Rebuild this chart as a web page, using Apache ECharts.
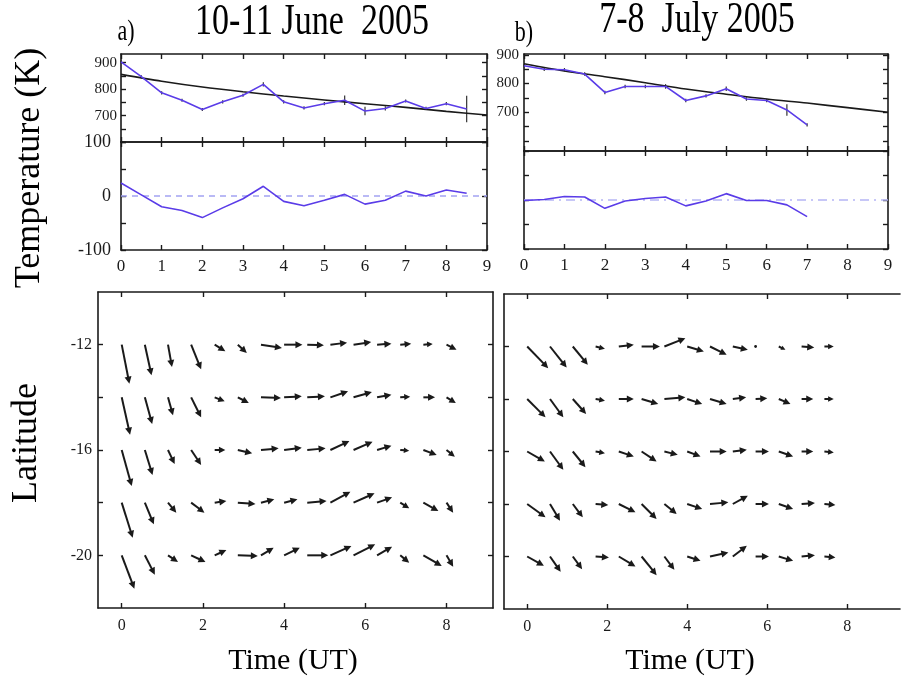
<!DOCTYPE html>
<html>
<head>
<meta charset="utf-8">
<script src="https://cdn.jsdelivr.net/npm/echarts@6/dist/echarts.min.js"></script>
<style>
  html, body { margin: 0; padding: 0; background: #fff; }
  #chart { width: 902px; height: 678px; }
</style>
</head>
<body>
<div id="chart"></div>
<script>
  // ---- temperature, 10-11 June 2005 ----
  var tempTimeJun = [0, 0.5, 1, 1.5, 2, 2.5, 3, 3.5, 4, 4.5, 5, 5.5, 6, 6.5, 7, 7.5, 8, 8.5]
  var tempJun = [903, 847, 786, 758, 723, 752, 777, 818, 752, 729, 745, 758, 717, 727, 755, 727, 745, 725]
  var errJun = [6, 6, 6, 6, 6, 6, 6, 8, 6, 6, 6, 18, 16, 8, 6, 6, 6, 50]
  var residJun = [24, 2, -20, -27, -40, -22, -5, 18, -10, -18, -8, 3, -15, -8, 9, 0, 11, 5]
  var fitTime = [0, 1, 2, 3, 4, 5, 6, 7, 8, 9]
  var fitJun = [856, 830, 808, 790, 774, 759, 745, 731, 716, 702]

  // ---- temperature, 7-8 July 2005 ----
  var tempTimeJul = [0, 0.5, 1, 1.5, 2, 2.5, 3, 3.5, 4, 4.5, 5, 5.5, 6, 6.5, 7]
  var tempJul = [862, 850, 848, 833, 769, 790, 790, 790, 741, 757, 782, 746, 741, 708, 656]
  var errJul = [6, 6, 6, 6, 6, 6, 6, 8, 6, 6, 8, 6, 6, 20, 6]
  var residJul = [-1, 1, 7, 6, -17, -2, 3, 6, -12, -2, 13, -1, -1, -10, -34]
  var fitJul = [869, 844, 824, 803, 781, 763, 746, 732, 716, 700]

  // ---- winds (m/s, u eastward, v northward) ----
  var latRows = [-12, -14, -16, -18, -20]
  var windTimeJun = [0, 0.57, 1.14, 1.71, 2.29, 2.86, 3.43, 4, 4.57, 5.14, 5.71, 6.29, 6.86, 7.43, 8]
  var windTimeJul = [0, 0.57, 1.14, 1.71, 2.29, 2.86, 3.43, 4, 4.57, 5.14, 5.71, 6.29, 6.86, 7.43]
  var uJun = [
    [23, 20, 12, 30, 32, 27, 63, 55, 50, 50, 53, 43, 33, 28, 30],
    [25, 22, 15, 30, 30, 33, 60, 53, 53, 53, 55, 43, 30, 35, 28],
    [30, 23, 20, 30, 32, 43, 53, 53, 55, 57, 57, 43, 27, 40, 25],
    [33, 27, 25, 40, 35, 53, 40, 40, 58, 60, 63, 45, 27, 45, 20],
    [38, 30, 30, 43, 35, 60, 38, 47, 63, 63, 65, 45, 27, 55, 20]
  ]
  var vJun = [
    [-117, -92, -67, -74, -20, -25, -10, 0, -2, 6, 8, 3, 3, 2, -15],
    [-112, -80, -54, -60, -12, -17, -2, 3, 3, 18, 16, 8, 2, 0, -17],
    [-108, -75, -42, -45, 0, -10, 5, 7, 5, 27, 25, 13, -2, -15, -20],
    [-105, -65, -30, -30, 5, -4, 10, 10, 5, 33, 28, 16, -17, -25, -30],
    [-100, -58, -20, -20, 16, -2, 23, 23, 0, 28, 33, 26, -22, -32, -34]
  ]
  var uJul = [
    [63, 50, 45, 28, 45, 55, 63, 50, 50, 45, 3, 20, 38, 28],
    [55, 40, 40, 28, 45, 50, 63, 45, 50, 40, 35, 35, 35, 28],
    [53, 40, 38, 28, 45, 45, 40, 40, 50, 42, 40, 43, 35, 28],
    [55, 30, 30, 38, 50, 45, 37, 45, 55, 45, 40, 43, 40, 33],
    [50, 32, 28, 40, 50, 45, 30, 40, 55, 42, 40, 43, 40, 33]
  ]
  var vJul = [
    [-65, -63, -55, -7, 5, 0, 25, -15, -25, -10, 0, -10, -3, 0],
    [-55, -55, -45, -5, 0, -15, 5, -15, -15, 5, 2, -15, 0, 0],
    [-30, -55, -47, -5, -15, -30, -10, -15, 0, 5, 0, -15, 0, -3],
    [-40, -50, -40, -3, -25, -45, -30, -15, 5, 25, 0, -15, 3, -3],
    [-28, -46, -38, -3, -30, -56, -40, -13, 12, 32, 0, -13, 4, -3]
  ]

  var FONT = 'Liberation Serif'
  var INK = '#1a1a1a'
  var BLUE = '#5a3ce8'
  var ARROW_SCALE = 1 / 3 // px per m/s

  function pairs (xs, ys) {
    var res = []
    for (var i = 0; i < ys.length; i++) res.push([xs[i], ys[i]])
    return res
  }
  function errData (xs, ys, es) {
    var res = []
    for (var i = 0; i < ys.length; i++) res.push([xs[i], ys[i] - es[i], ys[i] + es[i]])
    return res
  }
  function windData (times, u, v) {
    var res = []
    for (var r = 0; r < latRows.length; r++) {
      for (var c = 0; c < times.length; c++) {
        res.push([times[c], latRows[r], u[r][c], v[r][c]])
      }
    }
    return res
  }

  var grids = [
    {left: 121, top: 54, width: 366, height: 88},
    {left: 121, top: 142, width: 366, height: 108},
    {left: 524, top: 54, width: 364, height: 97},
    {left: 524, top: 151, width: 364, height: 98},
    {left: 98, top: 292, width: 395, height: 316},
    {left: 504, top: 294, width: 396, height: 315}
  ]

  var xAxes = []
  var yAxes = []
  function axis (g, pos, min, max, ticks, labels, opt) {
    opt = opt || {}
    return {
      type: 'value', gridIndex: g, position: pos, min: min, max: max,
      axisLine: {show: opt.line !== false, onZero: false, lineStyle: {color: INK, width: 1.6}},
      axisTick: {show: true, inside: true, length: 5, customValues: ticks, lineStyle: {color: INK, width: 1.4}},
      axisLabel: {
        show: !!labels, customValues: labels || [], color: INK, fontFamily: FONT,
        fontSize: opt.fs || 15, margin: opt.margin || 6
      },
      splitLine: {show: false}
    }
  }
  var hours = [0, 1, 2, 3, 4, 5, 6, 7, 8, 9]
  var windTicks = [0, 2, 4, 6, 8]
  var latTicks = [-20, -18, -16, -14, -12]
  var latLabels = [-20, -16, -12]
  var tempTicks = [600, 650, 700, 750, 800, 850, 900]
  var tempLabels = [700, 800, 900]
  var resTicks = [-100, -50, 0, 50, 100]

  // 0: June temperature
  xAxes.push(axis(0, 'bottom', 0, 9, hours), axis(0, 'top', 0, 9, hours))
  yAxes.push(axis(0, 'left', 600, 933, tempTicks, tempLabels, {fs: 15, margin: 4}), axis(0, 'right', 600, 933, tempTicks))
  // 1: June residual
  xAxes.push(axis(1, 'bottom', 0, 9, hours, hours, {fs: 17, margin: 8}), axis(1, 'top', 0, 9, hours))
  yAxes.push(axis(1, 'left', -100, 100, resTicks, [-100, 0, 100], {fs: 18, margin: 10}), axis(1, 'right', -100, 100, resTicks))
  // 2: July temperature
  xAxes.push(axis(2, 'bottom', 0, 9, hours), axis(2, 'top', 0, 9, hours))
  yAxes.push(axis(2, 'left', 565, 903, tempTicks, tempLabels, {fs: 15, margin: 5}), axis(2, 'right', 565, 903, tempTicks))
  // 3: July residual
  xAxes.push(axis(3, 'bottom', 0, 9, hours, hours, {fs: 17, margin: 8}), axis(3, 'top', 0, 9, hours))
  yAxes.push(axis(3, 'left', -100, 100, resTicks), axis(3, 'right', -100, 100, resTicks))
  // 4: June winds
  xAxes.push(axis(4, 'bottom', -0.584, 9.145, windTicks, windTicks, {fs: 16, margin: 10}), axis(4, 'top', -0.584, 9.145, windTicks))
  yAxes.push(axis(4, 'left', -22, -10, latTicks, latLabels, {fs: 16, margin: 6}), axis(4, 'right', -22, -10, latTicks))
  // 5: July winds (right edge cut off)
  xAxes.push(axis(5, 'bottom', -0.58, 9.32, windTicks, windTicks, {fs: 16, margin: 10}), axis(5, 'top', -0.58, 9.32, windTicks))
  yAxes.push(axis(5, 'left', -22, -10, latTicks), axis(5, 'right', -22, -10, [], null, {line: false}))

  function renderErr (params, api) {
    var lo = api.coord([api.value(0), api.value(1)])
    var hi = api.coord([api.value(0), api.value(2)])
    return {type: 'line', shape: {x1: lo[0], y1: lo[1], x2: hi[0], y2: hi[1]}, style: {stroke: '#333', lineWidth: 1.2}}
  }

  function renderArrow (params, api) {
    var p = api.coord([api.value(0), api.value(1)])
    var dx = api.value(2) * ARROW_SCALE
    var dy = -api.value(3) * ARROW_SCALE
    var len = Math.sqrt(dx * dx + dy * dy)
    if (len < 2) {
      return {type: 'circle', shape: {cx: p[0], cy: p[1], r: 1.4}, style: {fill: INK}}
    }
    var ux = dx / len, uy = dy / len
    var q = [p[0] + dx, p[1] + dy]
    var hl = Math.min(7, len * 0.6), hw = hl * 0.5
    var b = [q[0] - ux * hl, q[1] - uy * hl]
    return {
      type: 'group',
      children: [
        {type: 'line', shape: {x1: p[0], y1: p[1], x2: b[0] + ux, y2: b[1] + uy}, style: {stroke: INK, lineWidth: 2}},
        {type: 'polygon', shape: {points: [q, [b[0] - uy * hw, b[1] + ux * hw], [b[0] + uy * hw, b[1] - ux * hw]]}, style: {fill: INK}}
      ]
    }
  }

  function lineSeries (idx, data, color, width, extra) {
    var s = {
      type: 'line', xAxisIndex: idx * 2, yAxisIndex: idx * 2, data: data,
      showSymbol: false, symbol: 'none', silent: true, animation: false,
      lineStyle: {color: color, width: width}
    }
    for (var k in (extra || {})) s[k] = extra[k]
    return s
  }

  var series = [
    lineSeries(0, pairs(fitTime, fitJun), INK, 1.6, {smooth: 0.3}),
    lineSeries(0, pairs(tempTimeJun, tempJun), BLUE, 1.6),
    {type: 'custom', xAxisIndex: 0, yAxisIndex: 0, data: errData(tempTimeJun, tempJun, errJun), renderItem: renderErr, animation: false, silent: true},
    lineSeries(1, [[0, 0], [9, 0]], '#a3a3f2', 1.5, {lineStyle: {color: '#a3a3f2', width: 1.5, type: [6, 5]}}),
    lineSeries(1, pairs(tempTimeJun, residJun), BLUE, 1.6),

    lineSeries(2, pairs(fitTime, fitJul), INK, 1.6, {smooth: 0.3}),
    lineSeries(2, pairs(tempTimeJul, tempJul), BLUE, 1.6),
    {type: 'custom', xAxisIndex: 4, yAxisIndex: 4, data: errData(tempTimeJul, tempJul, errJul), renderItem: renderErr, animation: false, silent: true},
    lineSeries(3, [[0, 0], [9, 0]], '#b5b5f5', 1.5, {lineStyle: {color: '#b5b5f5', width: 1.5, type: [9, 5, 2, 5]}}),
    lineSeries(3, pairs(tempTimeJul, residJul), BLUE, 1.6),

    {type: 'custom', xAxisIndex: 8, yAxisIndex: 8, data: windData(windTimeJun, uJun, vJun), renderItem: renderArrow, animation: false, silent: true},
    {type: 'custom', xAxisIndex: 10, yAxisIndex: 10, data: windData(windTimeJul, uJul, vJul), renderItem: renderArrow, animation: false, silent: true}
  ]

  function label (text, x, y, size, opt) {
    opt = opt || {}
    return {
      type: 'text', x: x, y: y, rotation: opt.rot || 0,
      scaleX: opt.sx || 1, scaleY: opt.sy || 1, silent: true,
      style: {text: text, fill: '#000', font: size + 'px "' + FONT + '"', align: 'center', verticalAlign: 'middle'}
    }
  }

  var chart = echarts.init(document.getElementById('chart'), null, {renderer: 'canvas'})
  chart.setOption({
    animation: false,
    backgroundColor: '#fff',
    grid: grids,
    xAxis: xAxes,
    yAxis: yAxes,
    series: series,
    graphic: [
      label('a)', 126, 32, 22, {sy: 1.3}),
      label('10-11 June  2005', 312, 22, 34, {sy: 1.3}),
      label('b)', 524, 33, 22, {sy: 1.3}),
      label('7-8  July 2005', 697, 20, 34, {sy: 1.3}),
      label('Temperature (K)', 30, 168, 36, {rot: Math.PI / 2}),
      label('Latitude', 27, 443, 36, {rot: Math.PI / 2}),
      label('Time (UT)', 293, 661, 30),
      label('Time (UT)', 690, 661, 30)
    ]
  })
</script>
</body>
</html>
